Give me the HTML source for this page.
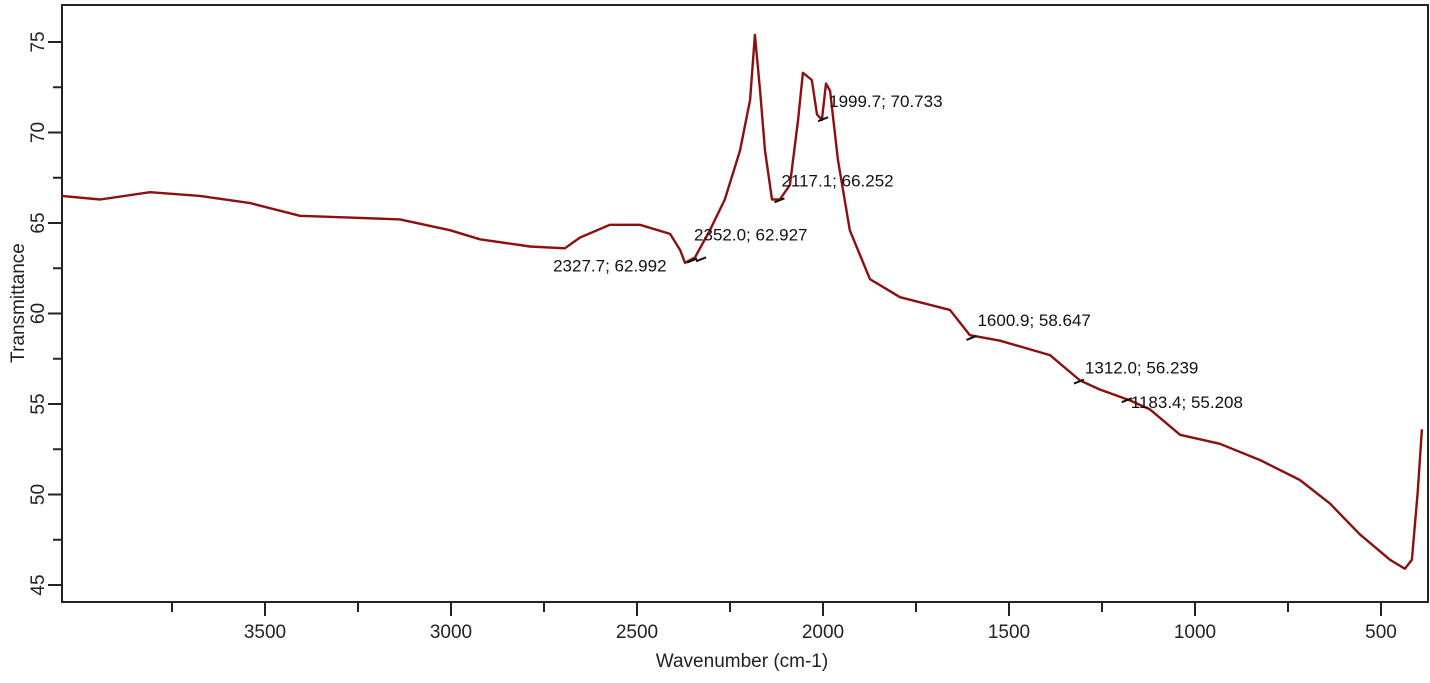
<!DOCTYPE html>
<html><head><meta charset="utf-8"><style>
body{margin:0;background:#fff}
svg{display:block;font-family:"Liberation Sans",Arial,sans-serif}
</style></head><body>
<svg id="chart" width="1430" height="683"></svg>
<script>
const wavenumbers=[4046,3943,3809,3675,3540,3406,3272,3137,3003,2922,2788,2694,2653,2573,2492,2411,2384,2371,2344,2304,2264,2223,2196,2183,2169,2156,2137,2116,2089,2067,2054,2030,2016,2003,1992,1981,1960,1928,1874,1793,1659,1605,1524,1390,1309,1256,1175,1121,1040,933,825,718,637,557,476,436,417,401,390];
const transmittance=[66.5,66.3,66.7,66.5,66.1,65.4,65.3,65.2,64.6,64.1,63.7,63.6,64.2,64.9,64.9,64.4,63.5,62.8,63.1,64.6,66.3,69.0,71.8,75.4,72.3,69.0,66.3,66.3,67.1,70.7,73.3,72.9,71.0,70.7,72.7,72.3,68.5,64.6,61.9,60.9,60.2,58.8,58.5,57.7,56.3,55.8,55.2,54.7,53.3,52.8,51.9,50.8,49.5,47.8,46.4,45.9,46.4,50.2,53.6];
const xTicks=[3500,3000,2500,2000,1500,1000,500];
const yTicks=[45,50,55,60,65,70,75];
const annLabels=["1999.7; 70.733","2117.1; 66.252","2352.0; 62.927","2327.7; 62.992","1600.9; 58.647","1312.0; 56.239","1183.4; 55.208"];
const annWn=[1999.7,2117.1,2352.0,2327.7,1600.9,1312.0,1183.4];
const annT=[70.733,66.252,62.927,62.992,58.647,56.239,55.208];
const annDx=[6,2,2,-148,6,6,4];
const annDy=[-12,-14,-20,12,-12,-8,8];

const L=62,R=1428,T=5,B=602;
const x=v=>265+(3500-v)*0.372;
const y=v=>42+(75-v)*18.1;
const svg=document.getElementById('chart');
const NS='http://www.w3.org/2000/svg';
function mk(t,a,p){const e=document.createElementNS(NS,t);for(const k in a)e.setAttribute(k,a[k]);(p||svg).appendChild(e);return e;}

const frame=mk('rect',{x:L,y:T,width:R-L,height:B-T,fill:'none',stroke:'#222','stroke-width':2});



for(let v=3750;v>=400;v-=250){const major=v%500===0;const t=mk('line',{x1:x(v),x2:x(v),y1:B,y2:B+(major?14:10),stroke:'#222','stroke-width':2});

}
xTicks.forEach(v=>{const t=mk('text',{x:x(v),y:B+36,'text-anchor':'middle','font-size':19,fill:'#222'});t.textContent=v;

});

for(let v=45;v<=75;v+=2.5){const major=v%5===0;const t=mk('line',{x1:L,x2:L-(major?14:9),y1:y(v),y2:y(v),stroke:'#222','stroke-width':2});

}
yTicks.forEach(v=>{const t=mk('text',{x:0,y:0,'text-anchor':'middle','font-size':19,fill:'#222',transform:`translate(44,${y(v)}) rotate(-90)`});t.textContent=v;

});

const xt=mk('text',{x:742,y:667,'text-anchor':'middle','font-size':19,fill:'#222'});xt.textContent='Wavenumber (cm-1)';


const yt=mk('text',{x:0,y:0,'text-anchor':'middle','font-size':19,fill:'#222',transform:'translate(24,303) rotate(-90)'});yt.textContent='Transmittance';



const pts=wavenumbers.map((w,i)=>x(w).toFixed(1)+','+y(transmittance[i]).toFixed(1)).join(' ');
const line=mk('polyline',{points:pts,fill:'none',stroke:'#8b1010','stroke-width':2.4,'stroke-linejoin':'round'});



annLabels.forEach((s,i)=>{const px=x(annWn[i]),py=y(annT[i]);
const m=mk('line',{x1:px-5,x2:px+5,y1:py+2,y2:py-2,stroke:'#111','stroke-width':2});


const t=mk('text',{x:px+annDx[i],y:py+annDy[i],'font-size':17,fill:'#111'});t.textContent=s;

});
</script>
</body></html>
